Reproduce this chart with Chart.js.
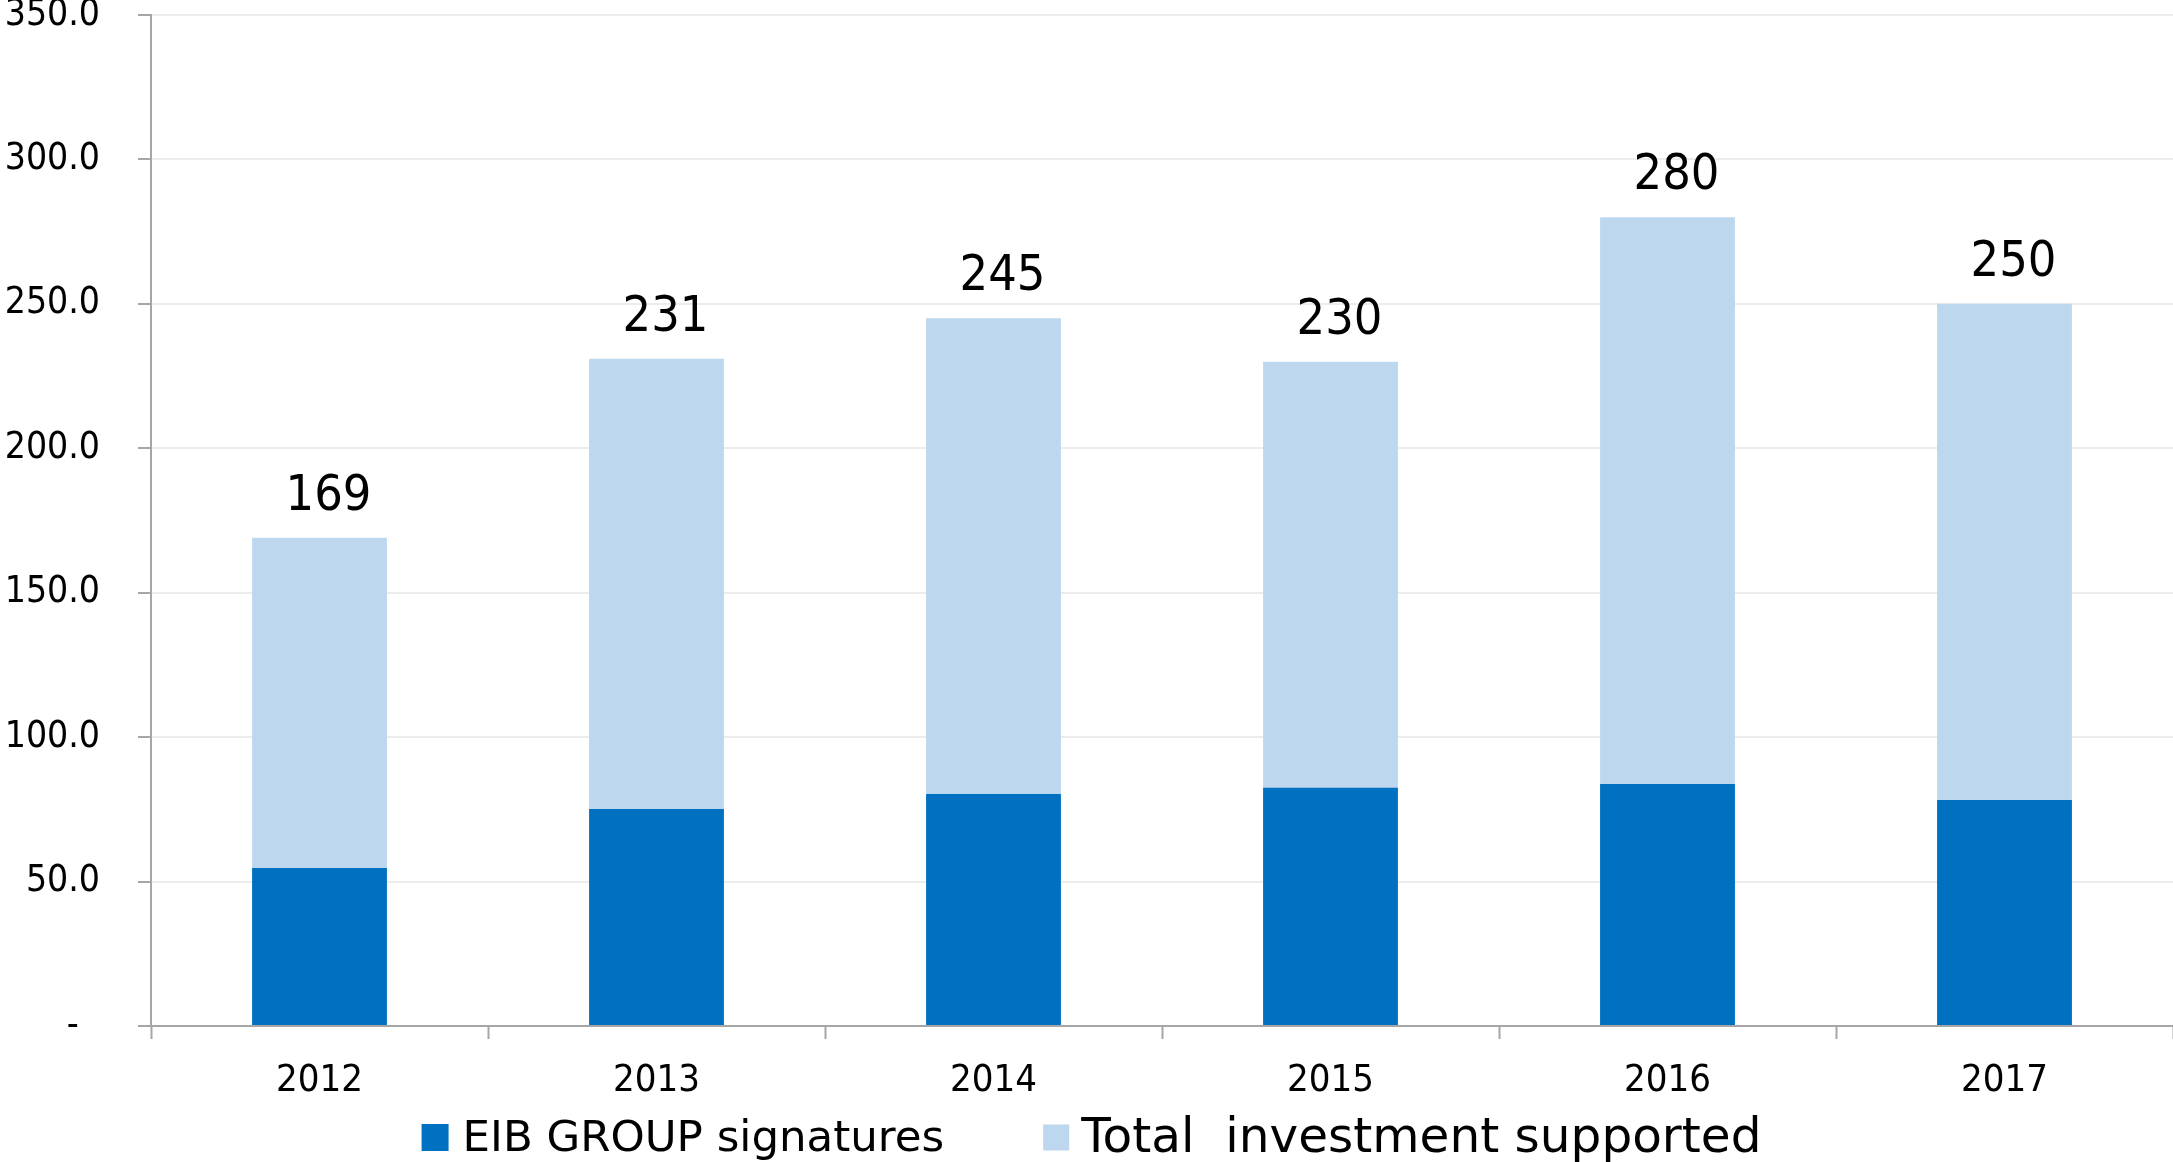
<!DOCTYPE html>
<html>
<head>
<meta charset="utf-8">
<script src="https://cdn.jsdelivr.net/npm/chart.js@4/dist/chart.umd.min.js"></script>
<style>
  html, body { margin: 0; padding: 0; background: #ffffff; }
  #wrap { width: 2173px; height: 1162px; }
</style>
</head>
<body>
<div id="wrap"><canvas id="chart" width="2173" height="1162"></canvas></div>
<script>
// Years on the category axis
const years = ['2012', '2013', '2014', '2015', '2016', '2017'];
// EIB Group signatures (EUR bn)
const eibSignatures = [54.7, 75.1, 80.3, 82.5, 83.8, 78.2];
// Total investment supported (EUR bn), printed above each bar
const totalInvestment = [169, 231, 245, 230, 280, 250];
// Value-axis range and step
const yMin = 0;
const yMax = 350;
const yStep = 50;
// Series names
const seriesNames = ['EIB GROUP signatures', 'Total  investment supported'];

const DARK = '#0070C0';
const LIGHT = '#BDD7EE';
const AXIS = '#a6a6a6';
const GRID = '#ececec';
const NARROW = '"DejaVu Sans Condensed", "DejaVu Sans", sans-serif';
const WIDE = '"DejaVu Sans", Verdana, sans-serif';

// Totals written above the light bars
const totalLabels = {
  id: 'totalLabels',
  afterDatasetsDraw(chart) {
    const meta = chart.getDatasetMeta(1);
    const ctx = chart.ctx;
    ctx.save();
    ctx.font = '50px ' + NARROW;
    ctx.fillStyle = '#000000';
    ctx.textAlign = 'center';
    ctx.textBaseline = 'alphabetic';
    meta.data.forEach((bar, i) => {
      ctx.fillText(String(chart.data.datasets[1].data[i]), bar.x + 9, bar.y - 28);
    });
    ctx.restore();
  }
};

// Legend row under the axis, each entry with its own text size
const legendRow = {
  id: 'legendRow',
  afterDraw(chart) {
    const ctx = chart.ctx;
    const items = [
      { text: chart.data.datasets[0].label, color: chart.data.datasets[0].backgroundColor, size: 43.5, box: 27, gap: 14 },
      { text: chart.data.datasets[1].label, color: chart.data.datasets[1].backgroundColor, size: 48.5, box: 26, gap: 12 }
    ];
    const between = 99;
    ctx.save();
    let total = 0;
    items.forEach((it, k) => {
      ctx.font = it.size + 'px ' + WIDE;
      it.w = ctx.measureText(it.text).width;
      total += it.box + it.gap + it.w + (k ? between : 0);
    });
    let x = (chart.width - total) / 2 + 5;
    const cy = 1137.5;
    items.forEach((it, k) => {
      if (k) x += between;
      ctx.fillStyle = it.color;
      ctx.fillRect(x, cy - it.box / 2, it.box, it.box);
      x += it.box + it.gap;
      ctx.font = it.size + 'px ' + WIDE;
      ctx.fillStyle = '#000000';
      ctx.textAlign = 'left';
      ctx.textBaseline = 'middle';
      ctx.fillText(it.text, x, cy + 2);
      x += it.w;
    });
    ctx.restore();
  }
};

new Chart(document.getElementById('chart'), {
  type: 'bar',
  data: {
    labels: years,
    datasets: [
      {
        label: seriesNames[0],
        data: eibSignatures,
        backgroundColor: DARK,
        borderWidth: 0,
        categoryPercentage: 1,
        barPercentage: 0.4
      },
      {
        label: seriesNames[1],
        data: totalInvestment,
        backgroundColor: LIGHT,
        borderWidth: 0,
        categoryPercentage: 1,
        barPercentage: 0.4
      }
    ]
  },
  options: {
    responsive: false,
    animation: false,
    devicePixelRatio: 1,
    layout: { padding: { top: 15, right: 0, bottom: 0, left: 0 } },
    plugins: {
      legend: { display: false },
      tooltip: { enabled: false }
    },
    scales: {
      x: {
        stacked: true,
        offset: true,
        grid: {
          offset: true,
          drawOnChartArea: false,
          drawTicks: true,
          tickLength: 13,
          tickColor: AXIS,
          tickWidth: 2
        },
        border: { color: AXIS, width: 2 },
        ticks: {
          color: '#000000',
          font: { family: NARROW, size: 38 },
          padding: 19,
          maxRotation: 0,
          autoSkip: false
        },
        afterFit(scale) {
          scale.height = 136;
          scale.paddingLeft = 0;
          scale.paddingRight = 0;
        }
      },
      y: {
        stacked: false,
        min: yMin,
        max: yMax,
        grid: {
          color: GRID,
          lineWidth: 2,
          tickLength: 13,
          tickColor: AXIS,
          tickWidth: 2
        },
        border: { color: AXIS, width: 2 },
        ticks: {
          stepSize: yStep,
          color: '#000000',
          font: { family: NARROW, size: 37 },
          padding: 38,
          callback: (v) => (v === 0 ? '-  ' : Number(v).toFixed(1))
        },
        afterFit(scale) {
          scale.width = 151;
          scale.paddingTop = 0;
          scale.paddingBottom = 0;
        }
      }
    }
  },
  plugins: [totalLabels, legendRow]
});
</script>
</body>
</html>
